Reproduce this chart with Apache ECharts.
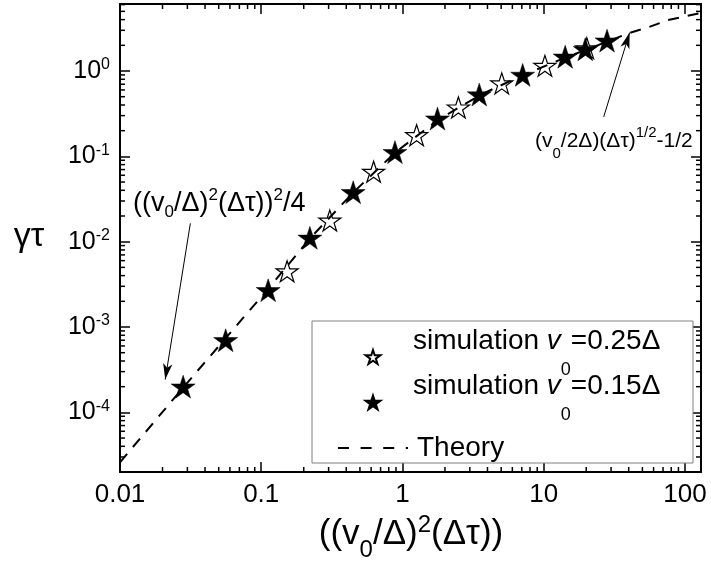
<!DOCTYPE html>
<html>
<head>
<meta charset="utf-8">
<script src="https://cdn.jsdelivr.net/npm/echarts@6/dist/echarts.min.js"></script>
<style>
  html, body { margin: 0; padding: 0; background: #fff; }
  #chart { width: 711px; height: 571px; }
</style>
</head>
<body>
<div id="chart"></div>
<script>
// x: ((v0/Δ)^2 (Δτ)),  y: γτ  -- log-log
var xTickValues = [0.01, 0.1, 1, 10, 100];
var xTickLabels = ['0.01', '0.1', '1', '10', '100'];
var yTickExponents = [-4, -3, -2, -1, 0];

// simulation v0 = 0.25Δ (open stars)
var simFastX = [0.1525, 0.306, 0.625, 1.26, 2.49, 5.05, 10.2, 20.2];
var simFastY = [4.5e-3, 0.0177, 0.066, 0.177, 0.374, 0.717, 1.15, 1.85];
// simulation v0 = 0.15Δ (filled stars)
var simSlowX = [0.028, 0.056, 0.112, 0.221, 0.448, 0.885, 1.77, 3.5, 7.1, 14.2, 19.7, 28.1];
var simSlowY = [2.0e-4, 7.0e-4, 2.7e-3, 0.0111, 0.038, 0.112, 0.277, 0.53, 0.9, 1.47, 1.8, 2.27];
// theory curve
var theoryX = [0.01, 0.028, 0.056, 0.112, 0.22, 0.45, 0.9, 1.8, 3.6, 7.2, 14, 28, 40.6, 55, 76, 130];
var theoryY = [2.6e-5, 1.95e-4, 7.4e-4, 2.8e-3, 0.0108, 0.038, 0.113, 0.27, 0.53, 0.9, 1.42, 2.2, 2.8, 3.25, 3.95, 4.8];

// annotation arrows [from, to]
var arrowLow = [[0.0315, 0.0164], [0.0209, 2.42e-4]];
var arrowHigh = [[26.6, 0.29], [40.6, 2.82]];

var X_MIN = 0.01, X_MAX = 130;
var Y_MIN = 2e-5, Y_MAX = 6.1;

var FONT = 'Liberation Sans, Arial, sans-serif';
var STAR = 'path://M100,0L122.45,69.1L195.11,69.1L136.33,111.8L158.78,180.9L100,138.2L41.22,180.9L63.67,111.8L4.89,69.1L77.55,69.1Z';

function zip(xs, ys) {
  return xs.map(function (x, i) { return [x, ys[i]]; });
}

// minor ticks 2..9 of every decade inside the range
function minorTicks(lo, hi) {
  var out = [];
  for (var e = Math.floor(Math.log10(lo)); e <= Math.ceil(Math.log10(hi)); e++) {
    for (var m = 2; m <= 9; m++) {
      var v = m * Math.pow(10, e);
      if (v > lo * 1.0001 && v < hi * 0.9999) out.push(v);
    }
  }
  return out;
}
var xMinor = minorTicks(X_MIN, X_MAX);
var yMinor = minorTicks(Y_MIN, Y_MAX);
var MINOR_LEN = 5;

function tickLine(x1, y1, x2, y2) {
  return { type: 'line', shape: { x1: x1, y1: y1, x2: x2, y2: y2 }, style: { stroke: '#000', lineWidth: 1.5 } };
}

var chart = echarts.init(document.getElementById('chart'));

var axisCommon = {
  type: 'log',
  logBase: 10,
  splitLine: { show: false },
  axisLine: { lineStyle: { color: '#000', width: 2 } },
  axisTick: { inside: true, length: 10, lineStyle: { color: '#000', width: 1.5 } },
  minorTick: { show: false }
};

var option = {
  animation: false,
  backgroundColor: '#fff',
  grid: { left: 120, right: 10, top: 4, bottom: 99 },
  xAxis: [
    Object.assign({}, axisCommon, {
      position: 'bottom', min: X_MIN, max: X_MAX,
      axisLabel: {
        margin: 10, fontSize: 26, fontFamily: FONT, color: '#000',
        formatter: function (v) {
          for (var i = 0; i < xTickValues.length; i++) {
            if (Math.abs(Math.log10(v) - Math.log10(xTickValues[i])) < 1e-6) return xTickLabels[i];
          }
          return '';
        }
      }
    }),
    Object.assign({}, axisCommon, {
      position: 'top', min: X_MIN, max: X_MAX, axisLabel: { show: false }
    })
  ],
  yAxis: [
    Object.assign({}, axisCommon, {
      position: 'left', min: Y_MIN, max: Y_MAX,
      axisLabel: {
        margin: 10, color: '#000',
        formatter: function (v) {
          var e = Math.log10(v), n = Math.round(e);
          if (Math.abs(e - n) > 1e-6 || yTickExponents.indexOf(n) < 0) return '';
          return '{b|10}{p|' + n + '}';
        },
        rich: {
          b: { fontSize: 25, fontFamily: FONT, color: '#000', lineHeight: 28 },
          p: { fontSize: 16, fontFamily: FONT, color: '#000', verticalAlign: 'top', lineHeight: 16 }
        }
      }
    }),
    Object.assign({}, axisCommon, {
      position: 'right', min: Y_MIN, max: Y_MAX, axisLabel: { show: false }
    })
  ],
  legend: {
    orient: 'vertical',
    left: 337,
    top: 327,
    padding: 0,
    itemWidth: 70,
    itemHeight: 14,
    itemGap: -14.5,
    z: 10,
    symbolKeepAspect: true,
    lineStyle: { width: 2, type: [11, 11.6] },
    data: [
      { name: 'sim25', icon: STAR },
      { name: 'sim15', icon: STAR },
      { name: 'theory', itemStyle: { opacity: 0 } }
    ],
    formatter: function (name) {
      if (name === 'sim25') return '{b|simulation }{i|v}{s|0}{b|=0.25Δ}';
      if (name === 'sim15') return '{b|simulation }{i|v}{s|0}{b|=0.15Δ}';
      return '{c|Theory}';
    },
    textStyle: {
      color: '#000',
      rich: {
        b: { fontSize: 28, fontFamily: FONT, color: '#000', lineHeight: 60, verticalAlign: 'top' },
        i: { fontSize: 28, fontFamily: FONT, color: '#000', lineHeight: 60, verticalAlign: 'top', fontStyle: 'italic' },
        s: { fontSize: 18, fontFamily: FONT, color: '#000', lineHeight: 18, verticalAlign: 'bottom', padding: [0, 0, 8, 0] },
        c: { fontSize: 28, fontFamily: FONT, color: '#000', lineHeight: 60, verticalAlign: 'middle', padding: [16, 0, 16, 4] }
      }
    }
  },
  graphic: [
    {
      type: 'rect', z: 9, silent: true,
      shape: { x: 312, y: 321, width: 381, height: 142 },
      style: { fill: '#fff', stroke: '#808080', lineWidth: 1 }
    },
    {
      type: 'text', z: 10, x: 29, y: 237,
      style: { text: 'γτ', font: '34px ' + FONT, fill: '#000', align: 'center', verticalAlign: 'middle' }
    },
    {
      type: 'text', z: 10, x: 411, y: 534,
      style: {
        text: '{b|((v}{s|0}{b|/Δ)}{p|2}{b|(Δτ))}',
        align: 'center', verticalAlign: 'middle',
        rich: {
          b: { fontSize: 35, fontFamily: FONT, fill: '#000', lineHeight: 56 },
          s: { fontSize: 24, fontFamily: FONT, fill: '#000', lineHeight: 24, verticalAlign: 'bottom' },
          p: { fontSize: 24, fontFamily: FONT, fill: '#000', lineHeight: 24, verticalAlign: 'top', padding: [7.5, 0, 0, 0] }
        }
      }
    },
    {
      type: 'text', z: 10, x: 133, y: 204,
      style: {
        text: '{b|((v}{s|0}{b|/Δ)}{p|2}{b|(Δτ))}{p|2}{b|/4}',
        align: 'left', verticalAlign: 'middle',
        rich: {
          b: { fontSize: 27, fontFamily: FONT, fill: '#000', lineHeight: 34 },
          s: { fontSize: 17, fontFamily: FONT, fill: '#000', lineHeight: 17, verticalAlign: 'bottom' },
          p: { fontSize: 17, fontFamily: FONT, fill: '#000', lineHeight: 17, verticalAlign: 'top' }
        }
      }
    },
    {
      type: 'text', z: 10, x: 535, y: 141.5,
      style: {
        text: '{b|(v}{s|0}{b|/2Δ)(Δτ)}{p|1/2}{b|-1/2}',
        align: 'left', verticalAlign: 'middle',
        rich: {
          b: { fontSize: 21, fontFamily: FONT, fill: '#000', lineHeight: 40 },
          s: { fontSize: 15, fontFamily: FONT, fill: '#000', lineHeight: 15, verticalAlign: 'bottom' },
          p: { fontSize: 15, fontFamily: FONT, fill: '#000', lineHeight: 15, verticalAlign: 'top', padding: [3.5, 0, 0, 0] }
        }
      }
    }
  ],
  series: [
    {
      type: 'custom', silent: true, clip: false,
      data: xMinor.map(function (v) { return [v, Y_MIN]; }),
      renderItem: function (params, api) {
        var v = api.value(0);
        var b = api.coord([v, Y_MIN]);
        var t = api.coord([v, Y_MAX]);
        return { type: 'group', children: [
          tickLine(b[0], b[1], b[0], b[1] - MINOR_LEN),
          tickLine(t[0], t[1], t[0], t[1] + MINOR_LEN)
        ] };
      }
    },
    {
      type: 'custom', silent: true, clip: false,
      data: yMinor.map(function (v) { return [X_MIN, v]; }),
      renderItem: function (params, api) {
        var v = api.value(1);
        var l = api.coord([X_MIN, v]);
        var r = api.coord([X_MAX, v]);
        return { type: 'group', children: [
          tickLine(l[0], l[1], l[0] + MINOR_LEN, l[1]),
          tickLine(r[0], r[1], r[0] - MINOR_LEN, r[1])
        ] };
      }
    },
    {
      name: 'sim25',
      type: 'scatter',
      symbol: STAR,
      symbolSize: 22,
      symbolKeepAspect: true,
      itemStyle: { color: '#fff', borderColor: '#000', borderWidth: 1.2, opacity: 1 },
      z: 3,
      data: zip(simFastX, simFastY)
    },
    {
      name: 'sim15',
      type: 'scatter',
      symbol: STAR,
      symbolSize: 24,
      symbolKeepAspect: true,
      itemStyle: { color: '#000', borderColor: '#000', borderWidth: 0.5, opacity: 1 },
      z: 3,
      data: zip(simSlowX, simSlowY)
    },
    {
      name: 'theory',
      type: 'line',
      symbol: 'none',
      z: 4,
      lineStyle: { color: '#000', width: 2, type: [11, 9] },
      itemStyle: { color: '#000' },
      data: zip(theoryX, theoryY),
      markLine: {
        silent: true,
        symbol: ['none', 'arrow'],
        symbolSize: [7, 16],
        label: { show: false },
        lineStyle: { color: '#000', width: 1, type: 'solid' },
        data: [
          [{ coord: arrowLow[0] }, { coord: arrowLow[1] }],
          [{ coord: arrowHigh[0] }, { coord: arrowHigh[1] }]
        ]
      }
    }
  ]
};

chart.setOption(option);
</script>
</body>
</html>
